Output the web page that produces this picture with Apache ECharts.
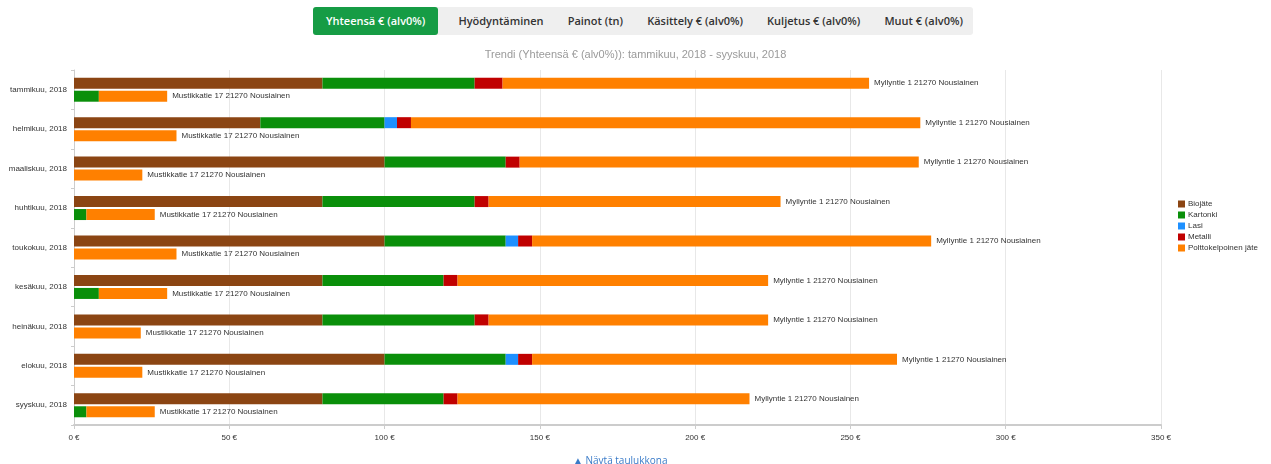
<!DOCTYPE html>
<html>
<head>
<meta charset="utf-8">
<script src="https://cdn.jsdelivr.net/npm/echarts@6/dist/echarts.min.js"></script>
<style>
html,body{margin:0;padding:0;background:#fff;width:1271px;height:464px;overflow:hidden;font-family:"Open Sans","Liberation Sans",Arial,sans-serif;}
#chart{position:absolute;left:0;top:0;width:1271px;height:464px;}
#tabs{position:absolute;left:313px;top:7px;width:660px;height:28px;background:#efefef;border-radius:3px;display:flex;align-items:center;justify-content:space-between;font-size:11px;font-weight:600;color:#333;z-index:2;padding-right:6px;box-sizing:border-box;}
#tabs div{height:28px;line-height:28px;padding:0 4px;white-space:nowrap;}
#tabs .active{background:#169c45;color:#fff;border-radius:3px;padding:0 13px;}
#more{position:absolute;left:573px;top:453px;font-size:10px;color:#3a7bc8;z-index:2;white-space:nowrap;}
</style>
</head>
<body>
<div id="chart"></div>
<div id="tabs"></div>
<div id="more">&#9650; Näytä taulukkona</div>
<script>
// ---- data ----
const tabLabels = ["Yhteensä € (alv0%)", "Hyödyntäminen", "Painot (tn)", "Käsittely € (alv0%)", "Kuljetus € (alv0%)", "Muut € (alv0%)"];
const chartTitle = "Trendi (Yhteensä € (alv0%)): tammikuu, 2018 - syyskuu, 2018";
const categories = ["tammikuu, 2018", "helmikuu, 2018", "maaliskuu, 2018", "huhtikuu, 2018", "toukokuu, 2018", "kesäkuu, 2018", "heinäkuu, 2018", "elokuu, 2018", "syyskuu, 2018"];
const seriesNames = ["Biojäte", "Kartonki", "Lasi", "Metalli", "Polttokelpoinen jäte"];
const xTicks = [0, 50, 100, 150, 200, 250, 300, 350];
const addressA = "Myllyntie 1 21270 Nousiainen";
const addressB = "Mustikkatie 17 21270 Nousiainen";

// upper bar (address A)
const aBiojate   = [80, 60, 100, 80, 100, 80, 80, 100, 80];
const aKartonki  = [49, 40, 39, 49, 39, 39, 49, 39, 39];
const aLasi      = [0, 4, 0, 0, 4, 0, 0, 4, 0];
const aMetalli   = [9, 4.5, 4.5, 4.5, 4.5, 4.5, 4.5, 4.5, 4.5];
const aPoltto    = [118, 164, 128.5, 94, 128.5, 100, 90, 117.5, 94];
// lower bar (address B)
const bBiojate   = [0, 0, 0, 0, 0, 0, 0, 0, 0];
const bKartonki  = [8, 0, 0, 4, 0, 8, 0, 0, 4];
const bLasi      = [0, 0, 0, 0, 0, 0, 0, 0, 0];
const bMetalli   = [0, 0, 0, 0, 0, 0, 0, 0, 0];
const bPoltto    = [22, 33, 22, 22, 33, 22, 21.5, 22, 22];

const colors = ["#8b4513", "#0a8f0a", "#1e90ff", "#c00000", "#ff8000"];

// ---- tabs ----
const tabs = document.getElementById('tabs');
tabLabels.forEach((t, i) => {
  const d = document.createElement('div');
  d.textContent = t;
  if (i === 0) d.className = 'active';
  tabs.appendChild(d);
});

// ---- chart ----
const chart = echarts.init(document.getElementById('chart'), null, {renderer: 'canvas'});
const aData = [aBiojate, aKartonki, aLasi, aMetalli, aPoltto];
const bData = [bBiojate, bKartonki, bLasi, bMetalli, bPoltto];
const series = [];
function mk(name, data, stack, color, last, label) {
  return {
    name: name, type: 'bar', stack: stack, data: data,
    barWidth: 11, barGap: '18%',
    itemStyle: {color: color},
    label: last ? {show: true, position: 'right', distance: 5, formatter: label,
      fontSize: 8, color: '#333', fontFamily: 'Liberation Sans, Arial'} : {show: false},
    emphasis: {disabled: true}
  };
}
seriesNames.forEach((n, i) => series.push(mk(n, aData[i], 'A', colors[i], i === 4, addressA)));
seriesNames.forEach((n, i) => series.push(mk(n, bData[i], 'B', colors[i], i === 4, addressB)));

chart.setOption({
  animation: false,
  color: colors,
  title: {text: chartTitle, left: 'center', top: 44,
    textStyle: {fontSize: 11, fontWeight: 'normal', color: '#9a9a9a', fontFamily: 'Liberation Sans, Arial'}},
  legend: {data: seriesNames, orient: 'vertical', left: 1173, top: 195,
    itemWidth: 7, itemHeight: 7, itemGap: 3, icon: 'rect',
    textStyle: {fontSize: 8, color: '#333', fontFamily: 'Liberation Sans, Arial', padding: [0,0,0,-2]}},
  grid: {left: 74, right: 110, top: 70, bottom: 39, containLabel: false},
  xAxis: {type: 'value', min: 0, max: 350, interval: 50,
    axisLine: {show: true, lineStyle: {color: '#ccc', width: 2}},
    axisTick: {show: true, length: 4, lineStyle: {color: '#ccc'}},
    axisLabel: {fontSize: 8, color: '#333', margin: 9, fontFamily: 'Liberation Sans, Arial',
      formatter: v => (xTicks.indexOf(v) >= 0 ? v : v) + ' €'},
    splitLine: {show: true, lineStyle: {color: '#e8e8e8'}}},
  yAxis: {type: 'category', data: categories, inverse: true,
    axisLine: {show: true, lineStyle: {color: '#ccc'}},
    axisTick: {show: true, length: 3, lineStyle: {color: '#ccc'}},
    axisLabel: {fontSize: 8, color: '#333', margin: 7, fontFamily: 'Liberation Sans, Arial'}},
  series: series
});
</script>
</body>
</html>
